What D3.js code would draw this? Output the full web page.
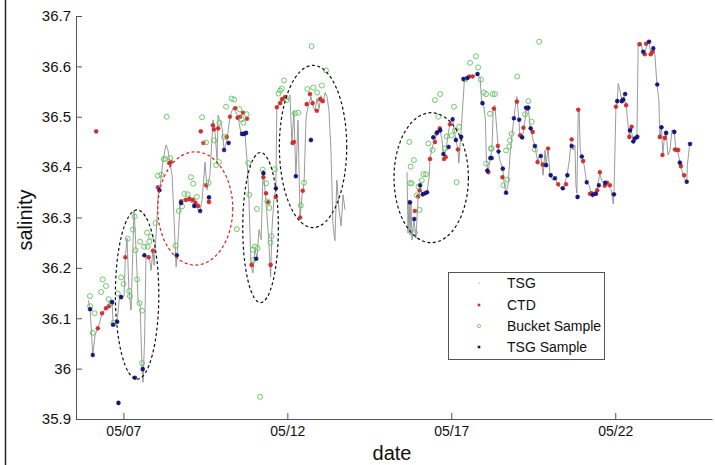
<!DOCTYPE html>
<html>
<head>
<meta charset="utf-8">
<script src="https://cdn.jsdelivr.net/npm/d3@7"></script>
<style>
  body { margin: 0; background: #fff; }
  svg { display: block; font-family: "Liberation Sans", Arial, sans-serif; }
</style>
</head>
<body>
<div id="chart"></div>
<script>
// x values are day of May, y values are salinity
var xTickDays = [7, 12, 17, 22];
var xTickLabels = ["05/07", "05/12", "05/17", "05/22"];
var yTicks = [35.9, 36, 36.1, 36.2, 36.3, 36.4, 36.5, 36.6, 36.7];

// TSG trace, two runs with a gap between them
var tsgRun1 = [
  [5.93,36.136],[5.985,36.118],[6.067,36.027],[6.137,36.067],[6.23,36.08],[6.35,36.11],[6.47,36.12],
  [6.59,36.13],[6.655,36.132],[6.686,36.087],[6.81,36.093],[6.87,36.136],[6.93,36.142],[7.02,36.144],
  [7.06,36.221],[7.11,36.259],[7.17,36.156],[7.235,36.116],[7.326,36.315],[7.387,36.236],[7.448,36.136],
  [7.51,36.126],[7.57,35.997],[7.6,35.973],[7.646,36.057],[7.69,36.221],[7.78,36.225],[7.845,36.195],
  [7.905,36.238],[7.936,36.205],[8.0,36.27],[8.06,36.344],[8.12,36.362],[8.21,36.414],[8.30,36.444],
  [8.36,36.434],[8.42,36.408],[8.485,36.385],[8.545,36.295],[8.607,36.202],[8.64,36.226],[8.73,36.325],
  [8.85,36.337],[8.97,36.335],[9.095,36.329],[9.216,36.321],[9.34,36.313],[9.4,36.335],[9.49,36.41],
  [9.55,36.355],[9.64,36.385],[9.735,36.494],[9.8,36.465],[9.857,36.414],[9.887,36.503],[10.01,36.478],
  [10.07,36.434],[10.16,36.454],[10.25,36.5],[10.34,36.517],[10.43,36.51],[10.5,36.498],[10.59,36.466],
  [10.71,36.466],[10.77,36.414],[10.83,36.335],[10.89,36.206],[10.95,36.19],[11.015,36.236],[11.075,36.22],
  [11.137,36.276],[11.2,36.256],[11.26,36.394],[11.32,36.355],[11.38,36.305],[11.44,36.246],[11.49,36.182],
  [11.53,36.276],[11.59,36.335],[11.65,36.358],[11.68,36.521],[11.77,36.525],[11.86,36.533],[11.93,36.54],
  [12.02,36.533],[12.08,36.543],[12.14,36.447],[12.2,36.512],[12.26,36.38],[12.325,36.493],[12.387,36.3],
  [12.45,36.344],[12.51,36.368],[12.57,36.497],[12.6,36.51],[12.66,36.526],[12.72,36.54],[12.78,36.522],
  [12.84,36.512],[12.905,36.536],[12.966,36.516],[13.03,36.542],[13.09,36.528],[13.15,36.548],[13.21,36.54],
  [13.27,36.512],[13.33,36.433],[13.39,36.288],[13.45,36.254],[13.51,36.374],[13.576,36.315],[13.64,36.283],
  [13.7,36.345],[13.76,36.315]
];
var tsgRun2 = [
  [15.65,36.39],[15.68,36.269],[15.71,36.335],[15.74,36.265],[15.77,36.329],[15.8,36.255],[15.86,36.297],
  [15.92,36.259],[15.985,36.335],[16.05,36.364],[16.11,36.345],[16.17,36.345],[16.26,36.35],[16.33,36.384],
  [16.35,36.418],[16.44,36.444],[16.5,36.45],[16.56,36.47],[16.655,36.473],[16.72,36.454],[16.76,36.422],
  [16.84,36.434],[16.9,36.464],[16.96,36.487],[17.04,36.495],[17.11,36.464],[17.14,36.454],[17.2,36.436],
  [17.23,36.408],[17.3,36.473],[17.36,36.533],[17.4,36.573],[17.49,36.573],[17.58,36.58],[17.67,36.58],
  [17.8,36.585],[17.88,36.577],[17.92,36.533],[17.98,36.527],[18.04,36.494],[18.07,36.414],[18.11,36.392],
  [18.16,36.404],[18.19,36.418],[18.24,36.434],[18.28,36.52],[18.33,36.523],[18.4,36.464],[18.44,36.43],
  [18.48,36.414],[18.567,36.398],[18.6,36.374],[18.66,36.348],[18.73,36.364],[18.79,36.424],[18.85,36.464],
  [18.91,36.497],[18.97,36.529],[19.0,36.54],[19.06,36.493],[19.09,36.464],[19.16,36.46],[19.22,36.477],
  [19.28,36.513],[19.34,36.523],[19.4,36.483],[19.43,36.477],[19.49,36.454],[19.55,36.442],[19.63,36.412],
  [19.7,36.424],[19.73,36.422],[19.8,36.384],[19.86,36.434],[19.89,36.404],[19.95,36.438],[20.01,36.384],
  [20.1,36.374],[20.16,36.378],[20.26,36.364],[20.31,36.36],[20.41,36.358],[20.47,36.37],[20.53,36.384],
  [20.6,36.414],[20.65,36.448],[20.71,36.434],[20.77,36.444],[20.8,36.364],[20.83,36.348],[20.87,36.514],
  [20.9,36.512],[20.93,36.434],[20.98,36.42],[21.05,36.404],[21.13,36.368],[21.2,36.364],[21.26,36.35],
  [21.32,36.344],[21.38,36.348],[21.44,36.354],[21.53,36.388],[21.59,36.372],[21.66,36.368],[21.72,36.366],
  [21.78,36.362],[21.87,36.356],[21.94,36.327],[21.96,36.344],[22.02,36.517],[22.06,36.529],[22.09,36.566],
  [22.14,36.553],[22.2,36.533],[22.26,36.54],[22.33,36.523],[22.39,36.483],[22.43,36.46],[22.48,36.477],
  [22.54,36.454],[22.6,36.458],[22.66,36.46],[22.7,36.646],[22.78,36.648],[22.85,36.628],[22.9,36.624],
  [22.96,36.642],[23.03,36.648],[23.08,36.628],[23.16,36.636],[23.21,36.622],[23.27,36.565],[23.33,36.533],
  [23.36,36.458],[23.41,36.478],[23.45,36.424],[23.49,36.454],[23.55,36.468],[23.61,36.424],[23.67,36.434],
  [23.73,36.474],[23.8,36.47],[23.85,36.434],[23.91,36.43],[23.97,36.41],[24.03,36.394],[24.1,36.378],
  [24.18,36.37],[24.2,36.404],[24.27,36.446]
];

var ctd = [
  [6.17,36.471],[6.22,36.08],[6.35,36.11],[6.47,36.12],[6.56,36.124],[7.06,36.221],[7.77,36.221],[7.9,36.234],
  [8.05,36.36],[8.4,36.408],[8.45,36.41],[8.76,36.332],[8.91,36.335],[9.02,36.337],[9.12,36.335],[9.2,36.329],
  [9.28,36.323],[9.36,36.471],[9.44,36.448],[9.52,36.364],[9.61,36.331],[9.73,36.483],[9.76,36.475],[9.89,36.477],
  [10.15,36.46],[10.25,36.5],[10.41,36.517],[10.48,36.498],[10.56,36.5],[10.65,36.508],[10.77,36.496],[10.91,36.206],
  [11.27,36.38],[11.35,36.348],[11.42,36.33],[11.49,36.206],[11.65,36.341],[11.68,36.519],[11.78,36.527],[11.84,36.535],
  [11.93,36.539],[12.16,36.448],[12.2,36.45],[12.39,36.3],[12.47,36.353],[12.59,36.525],[12.69,36.545],[12.77,36.527],
  [12.9,36.512],[13.0,36.535],[13.08,36.531],
  [15.89,36.313],[15.99,36.342],[16.03,36.354],[16.35,36.416],[16.5,36.45],[16.55,36.467],[16.65,36.477],[16.78,36.416],
  [16.83,36.42],[16.96,36.485],[17.2,36.435],[17.55,36.58],[17.65,36.58],[18.13,36.39],[18.3,36.516],[18.42,36.442],
  [18.56,36.38],[19.0,36.53],[19.1,36.463],[19.2,36.478],[19.32,36.516],[19.48,36.47],[19.63,36.41],[19.79,36.405],
  [19.95,36.437],[20.26,36.366],[20.5,36.366],[20.67,36.455],[20.87,36.514],[21.02,36.412],[21.23,36.347],[21.28,36.348],
  [21.38,36.347],[21.45,36.354],[21.53,36.39],[21.68,36.363],[21.75,36.369],[21.84,36.364],[22.02,36.52],[22.33,36.523],
  [22.43,36.46],[22.5,36.48],[22.74,36.644],[22.94,36.645],[22.9,36.624],[23.08,36.624],[23.14,36.629],[23.36,36.46],
  [23.44,36.424],[23.51,36.458],[23.82,36.435],[23.87,36.434],[23.92,36.434],[24.0,36.402],[24.1,36.384]
];

var bucket = [
  [5.98,36.144],[5.985,36.124],[6.12,36.11],[6.07,36.071],[6.32,36.152],[6.37,36.177],[6.47,36.164],[6.55,36.138],
  [6.63,36.13],[6.7,36.091],[6.83,36.149],[6.93,36.181],[7.01,36.168],[7.13,36.258],[7.18,36.154],[7.2,36.144],
  [7.29,36.276],[7.34,36.302],[7.37,36.235],[7.42,36.177],[7.49,36.13],[7.57,36.115],[7.57,36.011],[7.51,36.252],
  [7.64,36.242],[7.72,36.27],[7.74,36.242],[7.79,36.252],[7.84,36.262],[7.98,36.289],[8.05,36.383],[8.15,36.385],
  [8.23,36.416],[8.28,36.416],[8.43,36.418],[8.59,36.244],[8.69,36.313],[8.79,36.322],[8.86,36.347],[8.96,36.346],
  [9.06,36.38],[9.13,36.367],[9.24,36.341],[9.6,36.369],[9.83,36.404],[9.91,36.41],[10.46,36.277],[8.32,36.5],
  [9.4,36.499],[9.52,36.449],[9.77,36.453],[9.93,36.488],[10.13,36.52],[10.3,36.536],[10.38,36.534],[10.07,36.46],
  [10.54,36.515],[10.61,36.495],[10.66,36.488],[10.76,36.505],[10.81,36.408],[10.84,36.345],[10.95,36.236],[11.01,36.242],
  [11.09,36.239],[10.96,36.216],[11.07,36.317],[11.25,36.395],[11.35,36.368],[11.39,36.332],[11.45,36.319],[11.52,36.263],
  [11.49,36.25],[11.62,36.396],[11.73,36.546],[11.78,36.552],[11.83,36.556],[11.9,36.572],[11.98,36.533],[12.23,36.507],
  [12.33,36.508],[12.51,36.369],[12.41,36.324],[12.61,36.555],[12.79,36.558],[12.91,36.548],[13.05,36.562],[13.18,36.592],
  [12.74,36.64],[11.17,35.944],
  [15.72,36.45],[15.86,36.414],[15.76,36.401],[15.74,36.368],[15.79,36.368],[15.89,36.27],[15.95,36.344],[16.0,36.361],
  [16.03,36.315],[16.1,36.374],[16.15,36.386],[16.23,36.386],[16.3,36.447],[16.43,36.434],[16.5,36.533],[16.6,36.5],
  [16.66,36.545],[16.81,36.437],[16.86,36.461],[17.01,36.463],[17.08,36.52],[17.11,36.473],[17.24,36.48],[17.16,36.37],
  [17.42,36.574],[17.9,36.574],[17.57,36.607],[17.75,36.62],[17.82,36.598],[17.99,36.548],[18.06,36.545],[18.26,36.545],
  [18.33,36.545],[18.06,36.407],[18.23,36.437],[18.18,36.506],[18.21,36.437],[18.59,36.364],[18.71,36.375],[18.67,36.433],
  [18.77,36.441],[18.84,36.466],[18.79,36.453],[19.01,36.58],[19.68,36.649],[19.35,36.531],[19.45,36.49],[19.25,36.505],
  [19.55,36.435]
];

var tsgSample = [
  [5.985,36.118],[6.067,36.027],[6.85,35.932],[6.655,36.132],[6.686,36.087],[6.81,36.093],[6.93,36.142],[7.35,35.982],
  [7.59,35.999],[7.64,36.225],[8.1,36.354],[8.63,36.225],[8.76,36.329],[9.16,36.323],[9.34,36.313],[9.61,36.34],
  [10.07,36.434],[10.21,36.448],[10.62,36.466],[10.68,36.466],[10.74,36.468],[11.05,36.218],[11.27,36.388],[11.65,36.358],
  [12.26,36.382],[12.72,36.454],
  [15.74,36.33],[15.87,36.297],[16.05,36.364],[16.13,36.346],[16.2,36.348],[16.26,36.35],[16.45,36.459],[16.57,36.469],
  [16.66,36.473],[16.76,36.426],[16.92,36.44],[17.04,36.495],[17.14,36.454],[17.3,36.46],[17.37,36.575],[17.49,36.577],
  [17.8,36.585],[17.95,36.527],[18.1,36.393],[18.23,36.418],[18.19,36.418],[18.44,36.431],[18.57,36.397],[18.67,36.349],
  [18.91,36.497],[19.07,36.494],[19.16,36.459],[19.28,36.518],[19.35,36.518],[19.42,36.477],[19.55,36.442],[19.73,36.422],
  [19.89,36.404],[20.03,36.384],[20.16,36.378],[20.4,36.358],[20.54,36.384],[20.67,36.442],[20.85,36.341],[20.98,36.421],
  [21.13,36.37],[21.31,36.345],[21.41,36.347],[21.5,36.364],[21.69,36.369],[21.96,36.346],[22.06,36.531],[22.2,36.531],
  [22.24,36.534],[22.3,36.545],[22.45,36.473],[22.55,36.451],[22.6,36.457],[22.67,36.46],[22.85,36.629],[23.03,36.649],
  [23.16,36.636],[23.28,36.564],[23.41,36.479],[23.55,36.468],[23.8,36.47],[23.97,36.409],[24.18,36.371],[24.28,36.446]
];

// hand-drawn annotation ellipses: [centre day, centre salinity, half width (days), half height (salinity)]
var blackRings = [[7.418,36.147,0.662,0.168],[11.183,36.28,0.543,0.149],[12.784,36.441,1.027,0.161],[16.387,36.379,1.134,0.129]];
var redRings = [[9.192,36.318,1.143,0.1125]];

var legendNames = ["TSG", "CTD", "Bucket Sample", "TSG Sample"];

var width = 715, height = 465;
var svg = d3.select("#chart").append("svg").attr("width", width).attr("height", height);

var x = d3.scaleLinear().domain([5.555, 24.95]).range([76, 712]);
var y = d3.scaleLinear().domain([35.9, 36.7]).range([419, 16]);

// figure frame edge on the left
svg.append("line").attr("x1", 5.5).attr("x2", 5.5).attr("y1", 0).attr("y2", height)
  .attr("stroke", "#222").attr("stroke-width", 1.5);

var line = d3.line().x(d => x(d[0])).y(d => y(d[1]));
[tsgRun1, tsgRun2].forEach(function (run) {
  svg.append("path").datum(run).attr("d", line)
    .attr("fill", "none").attr("stroke", "#8f8f8f").attr("stroke-width", 0.9);
});

function star(g, cx, cy, r, col, w) {
  var p = "M" + (cx - r) + "," + cy + "H" + (cx + r) + "M" + cx + "," + (cy - r) + "V" + (cy + r) +
    "M" + (cx - r * 0.7) + "," + (cy - r * 0.7) + "L" + (cx + r * 0.7) + "," + (cy + r * 0.7) +
    "M" + (cx - r * 0.7) + "," + (cy + r * 0.7) + "L" + (cx + r * 0.7) + "," + (cy - r * 0.7);
  g.append("path").attr("d", p).attr("stroke", col).attr("stroke-width", w).attr("fill", "none");
}

var gCtd = svg.append("g");
ctd.forEach(d => star(gCtd, x(d[0]), y(d[1]), 2.3, "#cc3030", 1.2));

svg.append("g").selectAll("circle").data(bucket).enter().append("circle")
  .attr("cx", d => x(d[0])).attr("cy", d => y(d[1])).attr("r", 2.5)
  .attr("fill", "none").attr("stroke", "#5cc45c").attr("stroke-width", 0.9);

var gSam = svg.append("g");
tsgSample.forEach(d => star(gSam, x(d[0]), y(d[1]), 2.3, "#16167c", 1.2));

// annotation rings
function rings(list, col) {
  svg.append("g").selectAll("ellipse").data(list).enter().append("ellipse")
    .attr("cx", d => x(d[0])).attr("cy", d => y(d[1]))
    .attr("rx", d => x(d[0] + d[2]) - x(d[0])).attr("ry", d => y(d[1] - d[3]) - y(d[1]))
    .attr("fill", "none").attr("stroke", col).attr("stroke-width", 1.2).attr("stroke-dasharray", "3,2.5");
}
rings(blackRings, "#111");
rings(redRings, "#e81e1e");

// axes
var xAxis = d3.axisBottom(x).tickValues(xTickDays).tickFormat((d, i) => xTickLabels[i])
  .tickSizeInner(-6).tickSizeOuter(0).tickPadding(7);
var yAxis = d3.axisLeft(y).tickValues(yTicks).tickFormat(d => String(d))
  .tickSizeInner(-6).tickSizeOuter(0).tickPadding(5);

var gx = svg.append("g").attr("transform", "translate(0,419)").call(xAxis);
var gy = svg.append("g").attr("transform", "translate(76,0)").call(yAxis);
[gx, gy].forEach(function (g) {
  g.select(".domain").attr("stroke", "#555");
  g.selectAll(".tick line").attr("stroke", "#555");
  g.selectAll("text").attr("fill", "#111").style("font-family", "Liberation Sans, Arial, sans-serif");
});
gx.selectAll("text").style("font-size", "14px");
gy.selectAll("text").style("font-size", "15px");

svg.append("text").attr("x", 392).attr("y", 460).attr("text-anchor", "middle")
  .style("font-size", "20px").attr("fill", "#111").text("date");
svg.append("text").attr("transform", "translate(32,220) rotate(-90)").attr("text-anchor", "middle")
  .style("font-size", "20px").attr("fill", "#111").text("salinity");

// legend
var lg = svg.append("g");
lg.append("rect").attr("x", 448.5).attr("y", 272.5).attr("width", 156).attr("height", 87)
  .attr("fill", "#fff").attr("stroke", "#555").attr("stroke-width", 1);
var rowY = [283, 305, 326, 347];
legendNames.forEach(function (name, i) {
  var cy = rowY[i];
  if (i === 0) lg.append("circle").attr("cx", 479).attr("cy", cy).attr("r", 0.8).attr("fill", "#bbb");
  if (i === 1) star(lg, 479, cy, 1.6, "#cc3030", 1);
  if (i === 2) lg.append("circle").attr("cx", 479).attr("cy", cy).attr("r", 1.6)
    .attr("fill", "none").attr("stroke", "#5cc45c").attr("stroke-width", 0.8);
  if (i === 3) star(lg, 479, cy, 1.6, "#16167c", 1);
  lg.append("text").attr("x", 507).attr("y", cy + 5).style("font-size", "14px")
    .attr("fill", "#111").text(name);
});
</script>
</body>
</html>
